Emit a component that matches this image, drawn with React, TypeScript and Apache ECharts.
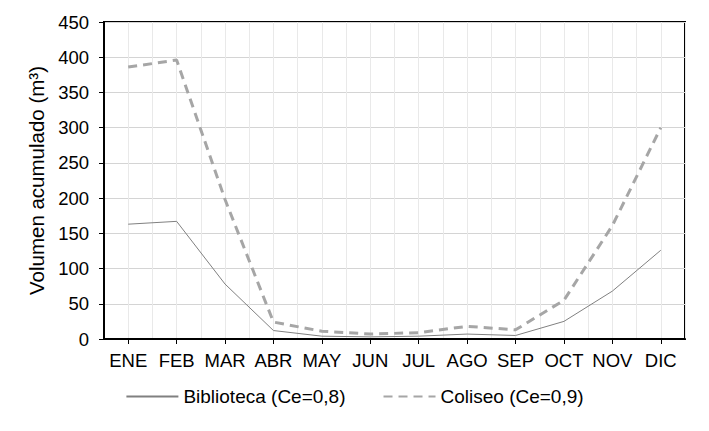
import React, { useEffect, useRef } from "react";
import * as echarts from "echarts";

const months = ["ENE", "FEB", "MAR", "ABR", "MAY", "JUN", "JUL", "AGO", "SEP", "OCT", "NOV", "DIC"];
const biblioteca = [163, 167, 78, 12, 4, 3, 4, 7, 5, 25, 68, 126];
const coliseo = [386, 396, 198, 24, 11, 7, 9, 18, 13, 55, 161, 300];
const seriesNames = ["Biblioteca (Ce=0,8)", "Coliseo (Ce=0,9)"];
const yTicks = { min: 0, max: 450, interval: 50 };

const FONT = "'Liberation Sans', Arial, sans-serif";

export default function App() {
  const ref = useRef<HTMLDivElement>(null);
  useEffect(() => {
    if (!ref.current) return;
    const chart = echarts.init(ref.current, null, { renderer: "svg" });
    chart.setOption({
      animation: false,
      backgroundColor: "#ffffff",
      textStyle: { fontFamily: FONT },
      grid: {
        left: 104,
        right: 24,
        top: 22,
        bottom: 92,
        show: true,
        borderColor: "#000000",
        borderWidth: 2,
        backgroundColor: "transparent",
      },
      legend: {
        bottom: 20,
        left: "center",
        itemWidth: 52,
        itemHeight: 12,
        itemGap: 37,
        itemStyle: { opacity: 0 },
        textStyle: { fontFamily: FONT, fontSize: 19, color: "#000" },
        data: seriesNames,
      },
      xAxis: [
        {
          type: "category",
          data: months,
          boundaryGap: true,
          axisLine: { lineStyle: { color: "#000", width: 2 } },
          axisTick: { show: true, alignWithLabel: true, length: 5, lineStyle: { color: "#000", width: 1 } },
          axisLabel: { color: "#000", fontSize: 18.5, fontFamily: FONT, margin: 12, interval: 0 },
          splitLine: { show: false },
        },
        {
          type: "value",
          min: 0,
          max: 24,
          interval: 1,
          position: "bottom",
          axisLine: { show: false },
          axisTick: { show: false },
          axisLabel: { show: false },
          splitLine: { show: true, lineStyle: { color: "#e9e9e9", width: 1 } },
        },
      ],
      yAxis: {
        type: "value",
        min: yTicks.min,
        max: yTicks.max,
        interval: yTicks.interval,
        name: "Volumen acumulado (m³)",
        nameLocation: "middle",
        nameGap: 54,
        nameRotate: 90,
        nameTextStyle: { color: "#000", fontSize: 20.5, fontFamily: FONT },
        axisLine: { show: true, lineStyle: { color: "#000", width: 2 } },
        axisTick: { show: true, length: 5, lineStyle: { color: "#000", width: 1 } },
        axisLabel: { color: "#000", fontSize: 18.5, fontFamily: FONT, margin: 15 },
        splitLine: { show: true, lineStyle: { color: "#d4d4d4", width: 1 } },
      },
      series: [
        {
          name: seriesNames[0],
          type: "line",
          xAxisIndex: 0,
          data: biblioteca,
          symbol: "none",
          lineStyle: { color: "#808080", width: 1 },
          itemStyle: { color: "#808080" },
          z: 3,
        },
        {
          name: seriesNames[1],
          type: "line",
          xAxisIndex: 0,
          data: coliseo,
          symbol: "none",
          lineStyle: { color: "#a6a6a6", width: 3, type: [9, 6] },
          itemStyle: { color: "#a6a6a6" },
          z: 4,
        },
      ],
    });
    return () => chart.dispose();
  }, []);
  return <div ref={ref} style={{ width: 709, height: 431, margin: -8 }} />;
}
